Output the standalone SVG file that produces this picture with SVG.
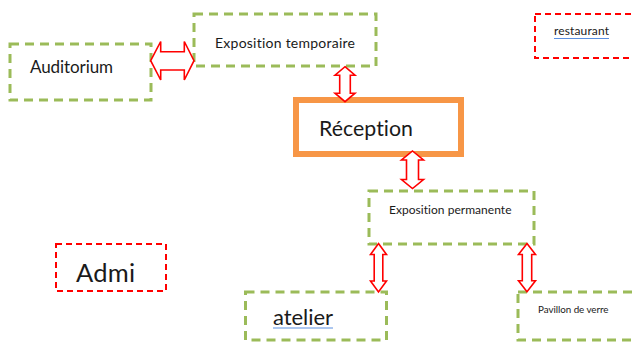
<svg xmlns="http://www.w3.org/2000/svg" width="633" height="345" viewBox="0 0 633 345">
<style>
.g{fill:#fff;stroke:#9BBB59;stroke-width:3;stroke-dasharray:9 6}
.r{fill:#fff;stroke:#FF0000;stroke-width:2;stroke-dasharray:6 4}
.o{fill:#fff;stroke:#F79646;stroke-width:6}
.t{font-family:Lato,"Open Sans","Liberation Sans",sans-serif;fill:#1a1a1a;font-variant-ligatures:none;font-feature-settings:"liga" 0,"clig" 0}
.a{fill:#fff;stroke:#FF0000;stroke-width:1.6;stroke-linejoin:miter}
.u{stroke:#5B8FE0;stroke-width:1}
</style>
<rect width="633" height="345" fill="#fff"/>
<g id="auditorium"><rect class="g" x="10" y="44" width="141" height="56"/><text class="t" x="30" y="73" font-size="17" textLength="83">Auditorium</text></g>
<g id="expo-temporaire"><rect class="g" x="194" y="14" width="182" height="52"/><text class="t" x="215" y="48" font-size="14" textLength="140">Exposition temporaire</text></g>
<g id="reception"><rect class="o" x="296" y="100" width="165" height="54"/><text class="t" x="319" y="136" font-size="21.3" textLength="94">Réception</text></g>
<g id="expo-permanente"><rect class="g" x="369" y="191" width="165" height="53"/><text class="t" x="389" y="214" font-size="12" textLength="122.5">Exposition permanente</text></g>
<g id="restaurant"><rect class="r" x="535" y="14" width="110" height="44"/><text class="t" x="554" y="35" font-size="12" textLength="55">restaurant</text><line class="u" x1="554" y1="38.5" x2="609" y2="38.5"/></g>
<g id="admi"><rect class="r" x="56" y="244" width="110" height="47"/><text class="t" x="76" y="282" font-size="25.5" textLength="59">Admi</text></g>
<g id="atelier"><rect class="g" x="245.5" y="292" width="141" height="48"/><text class="t" x="273" y="325" font-size="22" textLength="60">atelier</text><line class="u" x1="273" y1="328" x2="333" y2="328"/></g>
<g id="pavillon"><rect class="g" x="518" y="292" width="130" height="48"/><text class="t" x="538" y="313" font-size="9.8" textLength="70.5">Pavillon de verre</text></g>
<g id="connectors">
<path class="a" d="M150.7,60.7 L160.7,41.5 L160.7,51.7 L184.3,51.7 L184.3,41.5 L194,60.7 L184.3,80 L184.3,70 L160.7,70 L160.7,80 Z"/>
<path class="a" d="M345,66.7 L355,75.2 L350.3,75.2 L350.3,93.2 L355,93.2 L345,101.7 L335,93.2 L339.7,93.2 L339.7,75.2 L335,75.2 Z"/>
<path class="a" d="M412.5,151 L423.5,160 L418.5,160 L418.5,179.5 L423.5,179.5 L412.5,188.5 L401.5,179.5 L406.5,179.5 L406.5,160 L401.5,160 Z"/>
<path class="a" d="M378.5,243.5 L386.5,254.5 L382.8,254.5 L382.8,281 L386.5,281 L378.5,292 L370.5,281 L374.2,281 L374.2,254.5 L370.5,254.5 Z"/>
<path class="a" d="M527,243.5 L535.5,254.5 L531.7,254.5 L531.7,280.7 L535.5,280.7 L527,291.7 L518.5,280.7 L522.3,280.7 L522.3,254.5 L518.5,254.5 Z"/>
</g>
</svg>
